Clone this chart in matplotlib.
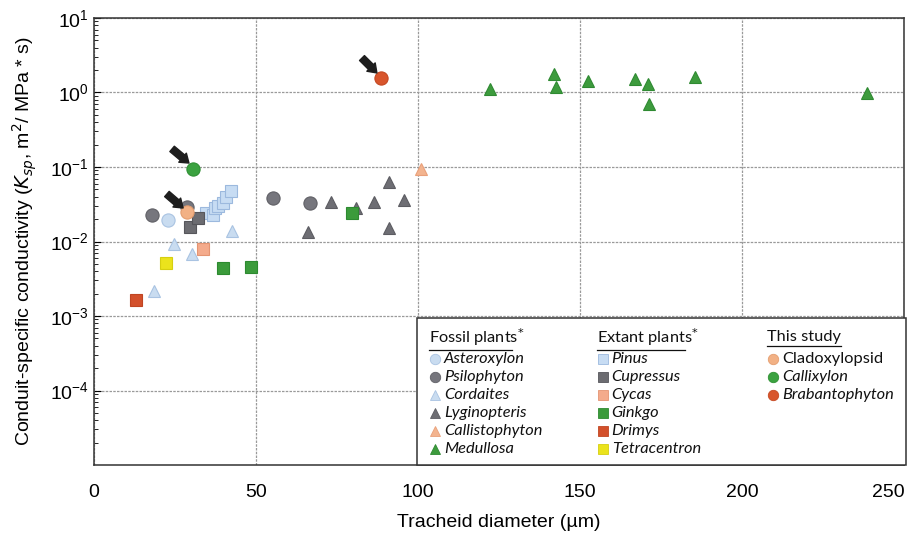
import matplotlib
matplotlib.use("Agg")
import matplotlib.pyplot as plt
from matplotlib.patches import Rectangle
from matplotlib.lines import Line2D

# ---- data (x: tracheid diameter in um, y: Ksp) ----
asteroxylon_x = [22.9]
asteroxylon_y = [0.0195]
psilophyton_x = [17.8, 28.6, 55.1, 66.7]
psilophyton_y = [0.0227, 0.0288, 0.038, 0.0325]
cordaites_x = [18.5, 24.8, 30.3, 42.7]
cordaites_y = [0.00217, 0.00917, 0.00673, 0.0138]
lyginopteris_x = [66.0, 73.1, 80.9, 86.4, 91.0, 91.0, 95.6]
lyginopteris_y = [0.0133, 0.0342, 0.0279, 0.0336, 0.0636, 0.0150, 0.036]
callistophyton_x = [100.8]
callistophyton_y = [0.093]
medullosa_x = [122.2, 141.8, 142.6, 152.3, 167.0, 170.9, 171.3, 185.4, 238.5]
medullosa_y = [1.10, 1.77, 1.17, 1.44, 1.52, 1.30, 0.70, 1.60, 0.99]

pinus_x = [34.5, 36.8, 37.3, 38.4, 39.9, 40.7, 42.2]
pinus_y = [0.0239, 0.0227, 0.0279, 0.030, 0.0325, 0.040, 0.048]
cupressus_x = [29.6, 32.0]
cupressus_y = [0.0158, 0.0205]
cycas_x = [33.5]
cycas_y = [0.00785]
ginkgo_x = [39.9, 48.5, 79.5]
ginkgo_y = [0.00436, 0.00451, 0.0239]
drimys_x = [12.9]
drimys_y = [0.00164]
tetracentron_x = [22.2]
tetracentron_y = [0.00509]

cladoxylopsid_x = [28.8]
cladoxylopsid_y = [0.0249]
callixylon_x = [30.6]
callixylon_y = [0.094]
brabantophyton_x = [88.5]
brabantophyton_y = [1.58]

# arrows (tail -> head) pointing at the three taxa of this study
arrow_tails = [(24.1, 0.175), (22.5, 0.0434), (82.7, 2.9)]
arrow_heads = [(29.3, 0.113), (27.5, 0.0282), (87.3, 1.83)]

# (label, x, y, marker, face, edge, italic)
fossil = [
    ("Asteroxylon", asteroxylon_x, asteroxylon_y, "o", "#c9dcf0", "#a9c3e2", True),
    ("Psilophyton", psilophyton_x, psilophyton_y, "o", "#76767d", "#606066", True),
    ("Cordaites", cordaites_x, cordaites_y, "^", "#c9dcf0", "#a9c3e2", True),
    ("Lyginopteris", lyginopteris_x, lyginopteris_y, "^", "#6e6e74", "#5c5c62", True),
    ("Callistophyton", callistophyton_x, callistophyton_y, "^", "#f3b48f", "#e9a07a", True),
    ("Medullosa", medullosa_x, medullosa_y, "^", "#3d9b3d", "#2f8a32", True),
]
extant = [
    ("Pinus", pinus_x, pinus_y, "s", "#c7dcf3", "#9cb9de", True),
    ("Cupressus", cupressus_x, cupressus_y, "s", "#6c6c71", "#56565b", True),
    ("Cycas", cycas_x, cycas_y, "s", "#f4ab8c", "#e49472", True),
    ("Ginkgo", ginkgo_x, ginkgo_y, "s", "#3b9b3b", "#2d8a30", True),
    ("Drimys", drimys_x, drimys_y, "s", "#d3502b", "#c04522", True),
    ("Tetracentron", tetracentron_x, tetracentron_y, "s", "#ebe31c", "#d6cf10", True),
]
study = [
    ("Cladoxylopsid", cladoxylopsid_x, cladoxylopsid_y, "o", "#f2b185", "#e49e70", False),
    ("Callixylon", callixylon_x, callixylon_y, "o", "#3ba240", "#2f9033", True),
    ("Brabantophyton", brabantophyton_x, brabantophyton_y, "o", "#d8552c", "#c54822", True),
]
headers = ["Fossil plants$^{*}$", "Extant plants$^{*}$", "This study"]

plt.rcParams["font.family"] = ["Liberation Sans", "DejaVu Sans"]

fig = plt.figure(figsize=(9.17, 5.37), dpi=100)
ax = fig.add_axes([0.1025, 0.134, 0.8835, 0.8325])

sizes = {"o": 9.5, "s": 8.8, "^": 9.0}
for group in (fossil, extant, study):
    for name, xs, ys, m, fc, ec, it in group:
        ax.plot(xs, ys, ls="none", marker=m, ms=sizes[m], mfc=fc, mec=ec, mew=0.8, zorder=3)

for (tx, ty), (hx, hy) in zip(arrow_tails, arrow_heads):
    ax.annotate("", xy=(hx, hy), xytext=(tx, ty),
                arrowprops=dict(arrowstyle="simple,head_length=0.6,head_width=0.85,tail_width=0.5",
                                color="#1e1e1e", shrinkA=0, shrinkB=0), zorder=4)

ax.set_yscale("log")
ax.set_xlim(0, 250)
ax.set_ylim(1e-5, 10)
ax.set_yticks([1e-4, 1e-3, 1e-2, 1e-1, 1, 10])
ax.set_xticks([0, 50, 100, 150, 200, 250])
ax.grid(True, which="major", color="#9a9a9a", ls=(0, (2, 1)), lw=0.9)
ax.tick_params(axis="both", which="major", labelsize=14, direction="in", length=5)
ax.tick_params(axis="y", which="minor", direction="in", length=3)
ax.tick_params(axis="x", length=0, pad=14)
ax.get_xticklabels()[-1].set_horizontalalignment("right")
ax.get_xticklabels()[-1].set_x(0)
for s in ax.spines.values():
    s.set_color("#333333")
    s.set_linewidth(1.1)

ax.set_xlabel("Tracheid diameter (\u00b5m)", fontsize=14, labelpad=9)
ax.set_ylabel("Conduit-specific conductivity ($\\mathit{K}_{\\mathit{sp}}$, m$^2$/ MPa * s)",
              fontsize=14, labelpad=8)

# ---- hand-built legend box ----
lx0, ly1 = 0.399, 0.329
ax.add_patch(Rectangle((lx0, 0.0), 1.0 - lx0 + 0.002, ly1, transform=ax.transAxes,
                       facecolor="white", edgecolor="#333333", lw=1.1, zorder=5, clip_on=False))
col_x = [0.414, 0.621, 0.831]
row_h = 0.0405
head_y = 0.286
lfont = ["Lato", "DejaVu Sans"]
fig.canvas.draw()
renderer = fig.canvas.get_renderer()
for ci, (head, group) in enumerate(zip(headers, (fossil, extant, study))):
    t = ax.text(col_x[ci], head_y, head, transform=ax.transAxes, fontsize=11.8,
                family=lfont, va="center", ha="left", zorder=6, color="#111111")
    bb = t.get_window_extent(renderer).transformed(ax.transAxes.inverted())
    uw = bb.width * (0.87 if ci < 2 else 1.0)
    ax.add_line(Line2D([bb.x0, bb.x0 + uw], [bb.y0 - 0.004, bb.y0 - 0.004],
                       transform=ax.transAxes, color="#111111", lw=0.9, zorder=6))
    for ri, (name, xs, ys, m, fc, ec, it) in enumerate(group):
        yy = head_y - (ri + 1) * row_h - 0.008
        ax.plot([col_x[ci] + 0.007], [yy], transform=ax.transAxes, ls="none", marker=m,
                ms=7.5, mfc=fc, mec=ec, mew=0.6, zorder=6, clip_on=False)
        ax.text(col_x[ci] + 0.018, yy, name, transform=ax.transAxes, fontsize=11.8,
                family=lfont, style="italic" if it else "normal", va="center",
                ha="left", zorder=6, color="#111111")

fig.savefig("out.png", dpi=100)
